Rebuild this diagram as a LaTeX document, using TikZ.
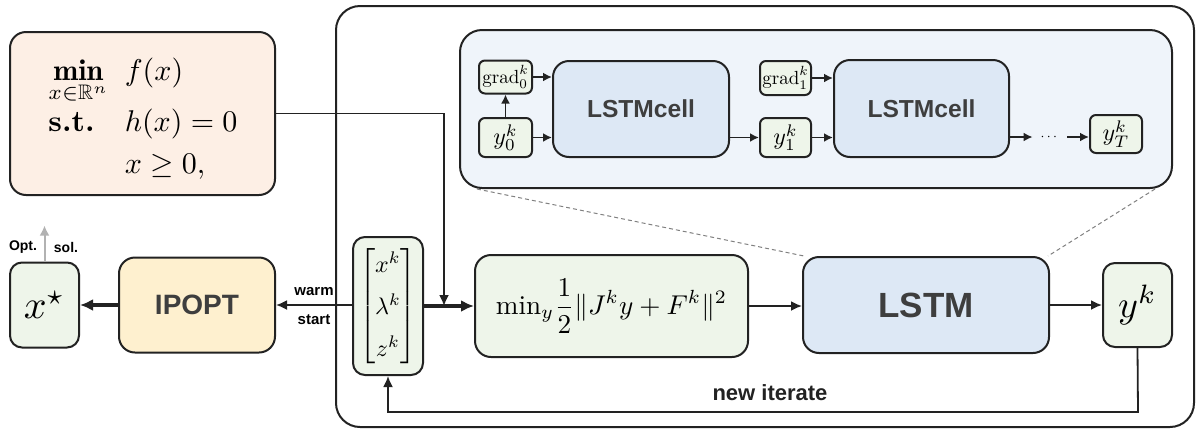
\documentclass[tikz,border=0pt]{standalone}
\usepackage{amsmath,amssymb}
\usepackage{graphicx}
\usepackage{fontspec}
\setsansfont{Liberation Sans}
\usetikzlibrary{arrows.meta,calc}
\definecolor{peach}{HTML}{FDEFE5}
\definecolor{gfill}{HTML}{EEF5EA}
\definecolor{yfill}{HTML}{FEF0CF}
\definecolor{bfill}{HTML}{DDE8F5}
\definecolor{pfill}{HTML}{EFF4FA}
\definecolor{edge}{HTML}{222222}
\definecolor{txt}{HTML}{3E3E3E}
\begin{document}
\begin{tikzpicture}[x=0.5pt,y=-0.5pt,
  box/.style={draw=edge, line width=1pt, rounded corners=6pt, inner sep=0pt},
  gbox/.style={box, fill=gfill},
  cbox/.style={box, fill=bfill, rounded corners=8pt},
  arr/.style={draw=edge, line width=0.9pt, -{Latex[length=5.5pt,width=5pt]}},
  sarr/.style={draw=edge, line width=0.9pt, -{Latex[length=4.5pt,width=4.5pt]}},
  tarr/.style={draw=edge, line width=1.6pt, -{Latex[length=6.5pt,width=6pt]}},
  dashline/.style={draw=gray, line width=0.5pt, dash pattern=on 2pt off 1.5pt}
]
\useasboundingbox (0,0) rectangle (1200,440);

% outer frame and detail panel
\node[draw=edge, line width=1pt, rounded corners=12pt, minimum width=429pt, minimum height=210.5pt] (outer) at (765,216.5) {};
\node[draw=edge, line width=1pt, fill=pfill, rounded corners=11pt, minimum width=356pt, minimum height=79pt] (panel) at (816,109) {};

% problem box
\node[box, fill=peach, rounded corners=8pt, minimum width=132.5pt, minimum height=81.5pt] (prob) at (142.5,113.5)
  {\hspace*{8pt}\raisebox{-3pt}[\height][\depth]{\scalebox{1.5}{$\begin{array}{@{}l@{\;\;}l}
   \displaystyle\mathop{\mathbf{min}}\limits_{x\in\mathbb{R}^n} & f(x)\\[5pt]
   \textbf{s.t.} & h(x)=0\\[2pt]
    & x\geq 0,
  \end{array}$}}};

% bottom row
\node[gbox, minimum width=34.5pt, minimum height=42.5pt] (xstar) at (44.5,305) {\scalebox{2}{$x^\star$}};
\node[box, fill=yfill, rounded corners=8pt, minimum width=78pt, minimum height=47.5pt] (ipopt) at (197,305)
  {\sffamily\bfseries\fontsize{14}{16}\selectfont\textcolor{txt}{IPOPT}};
\node[gbox, minimum width=35pt, minimum height=69pt] (vec) at (388,306)
  {\renewcommand{\arraystretch}{1.45}\scalebox{1.2}{$\begin{bmatrix} x^k\\ \lambda^k\\ z^k\end{bmatrix}$}};
\node[gbox, rounded corners=8pt, minimum width=136.5pt, minimum height=51pt] (minbox) at (611.5,306)
  {\scalebox{1.36}{$\displaystyle\mathrm{min}_y \frac{1}{2}\|J^k y+F^k\|^2$}};
\node[cbox, minimum width=123pt, minimum height=48pt] (lstm) at (926,305)
  {\sffamily\bfseries\fontsize{17.5}{20}\selectfont\textcolor{txt}{LSTM}};
\node[gbox, minimum width=34.5pt, minimum height=42pt] (yk) at (1137.5,305) {\scalebox{1.9}{$y^k$}};

% panel contents
\node[gbox, rounded corners=3pt, minimum width=26.5pt, minimum height=16.5pt] (grad0) at (505.5,77) {\scalebox{0.95}{$\mathrm{grad}_0^k$}};
\node[gbox, rounded corners=3pt, minimum width=26.5pt, minimum height=19.5pt] (y0) at (505.5,137.5) {\scalebox{1.2}{$y_0^k$}};
\node[cbox, minimum width=88pt, minimum height=48pt] (cell1) at (641,109) {\sffamily\bfseries\fontsize{12.3}{14}\selectfont\textcolor{txt}{LSTMcell}};
\node[gbox, rounded corners=3pt, minimum width=25.5pt, minimum height=17pt] (grad1) at (785.5,78) {\scalebox{0.95}{$\mathrm{grad}_1^k$}};
\node[gbox, rounded corners=3pt, minimum width=25.5pt, minimum height=19.5pt] (y1) at (785.5,137.5) {\scalebox{1.2}{$y_1^k$}};
\node[cbox, minimum width=87.5pt, minimum height=48.5pt] (cell2) at (921.5,108.5) {\sffamily\bfseries\fontsize{12.3}{14}\selectfont\textcolor{txt}{LSTMcell}};
\node[inner sep=0pt, minimum width=17pt] (dots) at (1050,137) {\scalebox{0.7}{$\cdots$}};
\node[gbox, rounded corners=3pt, minimum width=26pt, minimum height=19pt] (yT) at (1116,134) {\scalebox{1.2}{$y_T^k$}};

% dashed zoom lines
\draw[dashline] ([xshift=9pt]panel.south west) -- ([xshift=1pt]lstm.north west);
\draw[dashline] ([xshift=-9pt]panel.south east) -- ([xshift=-1pt]lstm.north east);

% panel arrows
\draw[sarr] (grad0.east) -- (grad0.east -| cell1.west);
\draw[sarr] (y0.east) -- (y0.east -| cell1.west);
\draw[sarr] (y0.north) -- (grad0.south);
\draw[sarr] (y1.west -| cell1.east) -- (y1.west);
\draw[sarr] (grad1.east) -- (grad1.east -| cell2.west);
\draw[sarr] (y1.east) -- (y1.east -| cell2.west);
\draw[sarr] (dots.west -| cell2.east) -- (dots.west);
\draw[sarr] (dots.east) -- (dots.east -| yT.west);

% main arrows
\coordinate (junc) at (444,306);
\draw[tarr] (ipopt.west) -- (ipopt.west -| xstar.east);
\draw[arr] (vec.west |- ipopt.east) -- (ipopt.east);
\node[font=\sffamily\bfseries\fontsize{7.5}{9}\selectfont, inner sep=0pt] (warm) at (314,292) {warm};
\node[font=\sffamily\bfseries\fontsize{7.5}{9}\selectfont, inner sep=0pt] (start) at (314,320) {start};
\draw[tarr] (vec.east) -- (minbox.west);
\draw[arr] (prob.east) -| (junc);
\draw[arr] (minbox.east) -- (minbox.east -| lstm.west);
\draw[arr] (lstm.east) -- (lstm.east -| yk.west);
\coordinate (fb) at (1138,412);
\draw[arr] (yk.south) -- (fb) -| (vec.south);
\node[font=\sffamily\bfseries\fontsize{11}{13}\selectfont, text=edge, inner sep=0pt] (newit) at (770,393) {new iterate};

% optimal solution
\draw[draw=gray!60, line width=1pt, -{Latex[length=5pt,width=5pt]}] (xstar.north) -- ++(0,-36) coordinate (optend);
\node[font=\sffamily\bfseries\fontsize{7}{8}\selectfont, inner sep=0pt] (opt) at (23,247) {Opt.};
\node[font=\sffamily\bfseries\fontsize{7}{8}\selectfont, inner sep=0pt] (sol) at (66,247) {sol.};
\end{tikzpicture}
\end{document}
